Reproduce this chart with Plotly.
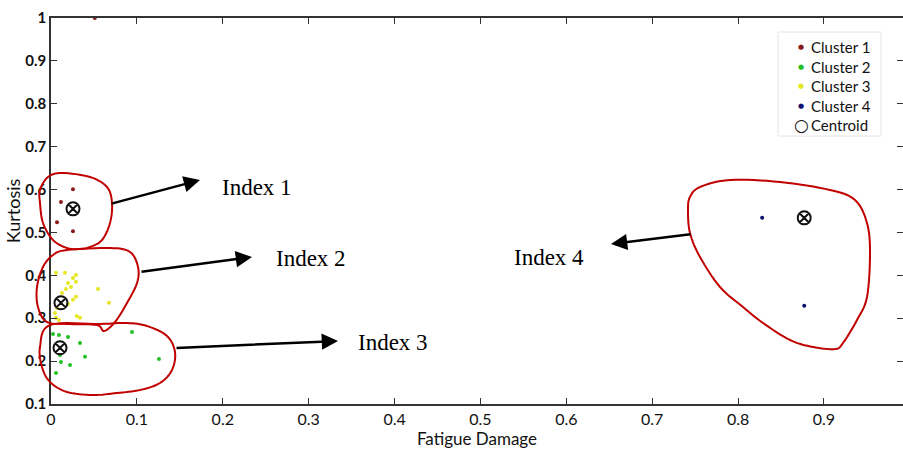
import plotly.graph_objects as go

# ---------------- data ----------------
c1_x = [0.0256, 0.0116, 0.007, 0.0256, 0.051]
c1_y = [0.601, 0.571, 0.524, 0.503, 1.0]

c2_x = [0.0023, 0.0093, 0.0198, 0.0943, 0.0338, 0.0396, 0.0116, 0.0221, 0.0058, 0.1257, 0.0105]
c2_y = [0.263, 0.261, 0.256, 0.268, 0.242, 0.210, 0.198, 0.191, 0.172, 0.205, 0.214]

c3_x = [0.0058, 0.0163, 0.029, 0.0256, 0.029, 0.0198, 0.0233, 0.0175, 0.0547, 0.0128,
        0.029, 0.0256, 0.0675, 0.0198, 0.007, 0.030, 0.0338, 0.0058, 0.0093, 0.0047]
c3_y = [0.406, 0.406, 0.401, 0.394, 0.385, 0.382, 0.373, 0.368, 0.368, 0.359,
        0.350, 0.343, 0.336, 0.333, 0.324, 0.305, 0.301, 0.301, 0.296, 0.312]

c4_x = [0.828, 0.877]
c4_y = [0.534, 0.329]

cent_x = [0.0256, 0.0116, 0.0105, 0.877]
cent_y = [0.555, 0.336, 0.231, 0.534]

x_ticks = [0, 0.1, 0.2, 0.3, 0.4, 0.5, 0.6, 0.7, 0.8, 0.9]
x_tick_labels = ["0", "0.1", "0.2", "0.3", "0.4", "0.5", "0.6", "0.7", "0.8", "0.9"]
y_ticks = [0.1, 0.2, 0.3, 0.4, 0.5, 0.6, 0.7, 0.8, 0.9, 1.0]
y_tick_labels = ["0.1", "0.2", "0.3", "0.4", "0.5", "0.6", "0.7", "0.8", "0.9", "1"]

index_labels = ["Index 1", "Index 2", "Index 3", "Index 4"]
legend_names = ["Cluster 1", "Cluster 2", "Cluster 3", "Cluster 4", "Centroid"]
legend_colors = ["#8b1a1a", "#22c022", "#e6e622", "#10106e", "#111111"]
legend_glyphs = ["●", "●", "●", "●", "○"]

# ---------------- layout helpers (decoration, screen pixel space) ----------------
W, H = 903, 451
L, T, R, B = 51, 18, 903, 404  # plot area in pixels


def px2paper(px, py):
    return (px - L) / (R - L), (B - py) / (B - T)


def catmull(points, n=8):
    pts = points + points[:3]
    out = []
    for i in range(len(points)):
        p0, p1, p2, p3 = pts[i], pts[i + 1], pts[i + 2], pts[i + 3]
        for k in range(n):
            t = k / n
            t2, t3 = t * t, t * t * t
            x = 0.5 * ((2 * p1[0]) + (-p0[0] + p2[0]) * t + (2 * p0[0] - 5 * p1[0] + 4 * p2[0] - p3[0]) * t2 + (-p0[0] + 3 * p1[0] - 3 * p2[0] + p3[0]) * t3)
            y = 0.5 * ((2 * p1[1]) + (-p0[1] + p2[1]) * t + (2 * p0[1] - 5 * p1[1] + 4 * p2[1] - p3[1]) * t2 + (-p0[1] + 3 * p1[1] - 3 * p2[1] + p3[1]) * t3)
            out.append((x, y))
    out.append(out[0])
    return out


def loop_path(points):
    sm = catmull(points)
    parts = []
    for i, (x, y) in enumerate(sm):
        fx, fy = px2paper(x, y)
        parts.append(("M" if i == 0 else "L") + f"{fx:.5f},{fy:.5f}")
    return " ".join(parts)


loop1 = [(48, 177), (62, 173), (90, 177), (107, 187), (112, 203), (110, 223), (102, 240),
         (90, 247), (80, 249), (67, 248), (53, 240), (43, 223), (40, 203), (40, 190)]
loop2 = [(53, 255), (67, 250), (110, 248), (130, 252), (138, 267), (137, 283), (127, 303),
         (115, 322), (104, 331), (97, 325), (70, 324), (47, 322), (38, 307), (37, 287), (43, 267)]
loop3 = [(50, 325), (100, 324), (127, 323), (147, 326), (167, 336), (175, 352), (172, 370),
         (160, 383), (140, 390), (117, 393), (93, 395), (67, 392), (50, 382), (42, 367), (40, 347)]
loop4 = [(690, 197), (700, 187), (730, 180), (780, 182), (830, 190), (855, 200), (867, 223),
         (870, 253), (867, 297), (857, 320), (843, 343), (835, 349), (813, 347), (790, 340),
         (763, 323), (743, 307), (720, 287), (700, 257), (690, 233), (688, 210)]

arrows = [((110, 204), (200, 180)), ((140, 272), (252, 257)),
          ((175, 348), (338, 341)), ((692, 234), (611, 244))]
label_pos = [(257, 187), (311, 258), (393, 342), (549, 257)]

# ---------------- figure ----------------
fig = go.Figure()

mk = dict(size=4)
fig.add_trace(go.Scatter(x=c1_x, y=c1_y, mode="markers", name="Cluster 1",
                         marker=dict(color=legend_colors[0], **mk), cliponaxis=False))
fig.add_trace(go.Scatter(x=c2_x, y=c2_y, mode="markers", name="Cluster 2",
                         marker=dict(color=legend_colors[1], **mk), cliponaxis=False))
fig.add_trace(go.Scatter(x=c3_x, y=c3_y, mode="markers", name="Cluster 3",
                         marker=dict(color=legend_colors[2], **mk), cliponaxis=False))
fig.add_trace(go.Scatter(x=c4_x, y=c4_y, mode="markers", name="Cluster 4",
                         marker=dict(color=legend_colors[3], **mk), cliponaxis=False))
fig.add_trace(go.Scatter(x=cent_x, y=cent_y, mode="markers", name="Centroid",
                         marker=dict(symbol="circle-x-open", size=13, color="#111",
                                     line=dict(width=2, color="#111")), cliponaxis=False))

shapes = []
for lp in [loop1, loop2, loop3, loop4]:
    shapes.append(dict(type="path", xref="paper", yref="paper", path=loop_path(lp),
                       line=dict(color="#c00000", width=2), layer="above"))

annotations = []
for (s, tip) in arrows:
    tx, ty = px2paper(*tip)
    annotations.append(dict(x=tx, y=ty, xref="paper", yref="paper", ax=s[0] - tip[0], ay=s[1] - tip[1],
                            axref="pixel", ayref="pixel", showarrow=True, arrowhead=2, arrowsize=1.3,
                            arrowwidth=2.5, arrowcolor="#000", text=""))
for txt, (cx, cy) in zip(index_labels, label_pos):
    fx, fy = px2paper(cx, cy)
    annotations.append(dict(x=fx, y=fy, xref="paper", yref="paper", text=txt, showarrow=False,
                            font=dict(family="Liberation Serif", size=23, color="#000"),
                            xanchor="center", yanchor="middle"))

# custom legend (box + glyph + label)
lx0, ly0, lx1, ly1 = 778, 32, 881, 136
bx0, by0 = px2paper(lx0, ly1)
bx1, by1 = px2paper(lx1, ly0)
shapes.append(dict(type="rect", xref="paper", yref="paper", x0=bx0, y0=by0, x1=bx1, y1=by1,
                   line=dict(color="#e4e4e4", width=1), fillcolor="white", layer="above"))
for i, (nm, col, gl) in enumerate(zip(legend_names, legend_colors, legend_glyphs)):
    cy = 47 + i * 19.5
    gx, gy = px2paper(801, cy)
    annotations.append(dict(x=gx, y=gy, xref="paper", yref="paper", text=gl, showarrow=False,
                            font=dict(family="DejaVu Sans", size=(7 if gl == "●" else 17), color=col),
                            xanchor="center", yanchor="middle"))
    tx, ty = px2paper(809, cy)
    annotations.append(dict(x=tx, y=ty, xref="paper", yref="paper", text=nm, showarrow=False,
                            font=dict(family="Lato", size=15, color="#111"),
                            xanchor="left", yanchor="middle"))

fig.update_layout(
    width=W, height=H,
    margin=dict(l=L, r=W - R, t=T, b=H - B),
    paper_bgcolor="white", plot_bgcolor="white",
    font=dict(family="Lato", size=14, color="#111"),
    showlegend=False,
    shapes=shapes, annotations=annotations,
)
fig.update_xaxes(range=[0, 0.992], tickvals=x_ticks, ticktext=x_tick_labels, automargin=False,
                 ticks="inside", ticklen=6, tickcolor="#333", showline=True, linecolor="#333",
                 linewidth=1.5, mirror="ticks", showgrid=False, zeroline=False,
                 title=dict(text="Fatigue Damage", font=dict(size=17), standoff=2),
                 tickfont=dict(size=16))
fig.update_yaxes(range=[0.1, 1.0], tickvals=y_ticks, ticktext=y_tick_labels, automargin=False,
                 ticks="inside", ticklen=6, tickcolor="#333", showline=True, linecolor="#333",
                 linewidth=1.5, mirror="ticks", showgrid=False, zeroline=False,
                 title=dict(text="Kurtosis", font=dict(size=18), standoff=0),
                 tickfont=dict(size=15, weight="bold"))

post = ("document.documentElement.style.overflow='hidden';"
        "document.body.style.margin='0';document.body.style.overflow='hidden';")
fig.write_html("out.html", post_script=post, config={"displayModeBar": False})
